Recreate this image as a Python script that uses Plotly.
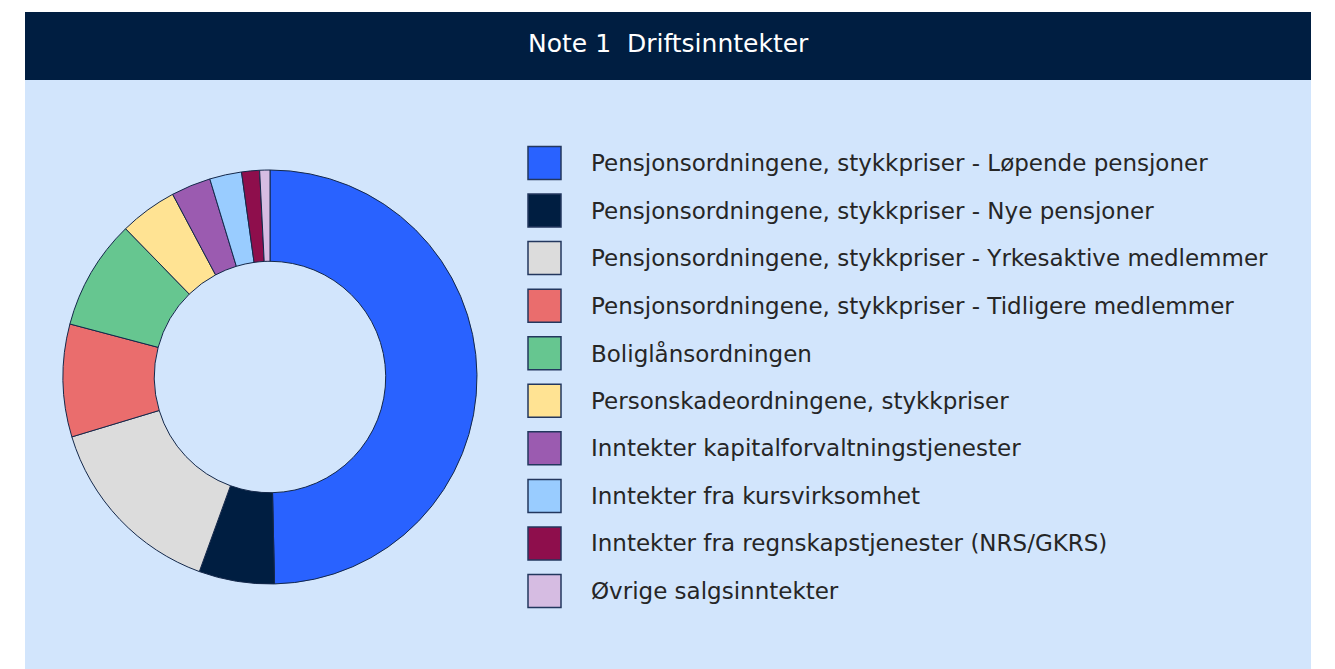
import plotly.graph_objects as go

title_text = "Note 1  Driftsinntekter"
labels = [
    "Pensjonsordningene, stykkpriser - Løpende pensjoner",
    "Pensjonsordningene, stykkpriser - Nye pensjoner",
    "Pensjonsordningene, stykkpriser - Yrkesaktive medlemmer",
    "Pensjonsordningene, stykkpriser - Tidligere medlemmer",
    "Boliglånsordningen",
    "Personskadeordningene, stykkpriser",
    "Inntekter kapitalforvaltningstjenester",
    "Inntekter fra kursvirksomhet",
    "Inntekter fra regnskapstjenester (NRS/GKRS)",
    "Øvrige salgsinntekter",
]
values = [49.7, 5.9, 14.8, 8.8, 8.6, 4.5, 3.1, 2.5, 1.4, 0.8]
colors = ["#2962FF", "#001E41", "#DCDCDC", "#EA6D6D", "#66C690",
          "#FFE393", "#9B5BB0", "#99CCFF", "#8E0E4C", "#D6BCE2"]

NAVY = "#001E41"
BG = "#D2E5FC"
OFF = 8
W, H = 1327, 661


def px(x):
    return (x - OFF) / W


def py(y):
    return 1 - (y - OFF) / H


fig = go.Figure(go.Pie(
    labels=labels, values=values, sort=False, direction="clockwise", rotation=0,
    hole=0.559, textinfo="none",
    marker=dict(colors=colors, line=dict(color="#14284a", width=1)),
    domain=dict(x=[px(63), px(477)], y=[py(584), py(170)]),
))

shapes = [
    dict(type="rect", xref="paper", yref="paper", x0=px(25), x1=px(1311), y0=0, y1=py(80),
         fillcolor=BG, line=dict(width=0), layer="below"),
    dict(type="rect", xref="paper", yref="paper", x0=px(25), x1=px(1311), y0=py(80), y1=py(12),
         fillcolor=NAVY, line=dict(width=0), layer="below"),
]
annotations = [
    dict(text=title_text, x=px(668), y=py(44), xref="paper", yref="paper",
         xanchor="center", yanchor="middle", showarrow=False,
         font=dict(family="DejaVu Sans", size=25, color="white")),
]
row0, step = 163, 47.56
for i, (lab, col) in enumerate(zip(labels, colors)):
    yc = row0 + i * step
    shapes.append(dict(type="rect", xref="paper", yref="paper",
                       x0=px(528), x1=px(561), y0=py(yc + 16.5), y1=py(yc - 16.5),
                       fillcolor=col, line=dict(color="#23375e", width=1.5)))
    annotations.append(dict(text=lab, x=px(589), y=py(yc), xref="paper", yref="paper",
                            xanchor="left", yanchor="middle", showarrow=False,
                            font=dict(family="DejaVu Sans", size=23, color="#262626")))

fig.update_layout(
    width=W, height=H, margin=dict(l=0, r=0, t=0, b=0),
    paper_bgcolor="white", plot_bgcolor="white", showlegend=False,
    shapes=shapes, annotations=annotations,
)
fig.write_html("out.html")
